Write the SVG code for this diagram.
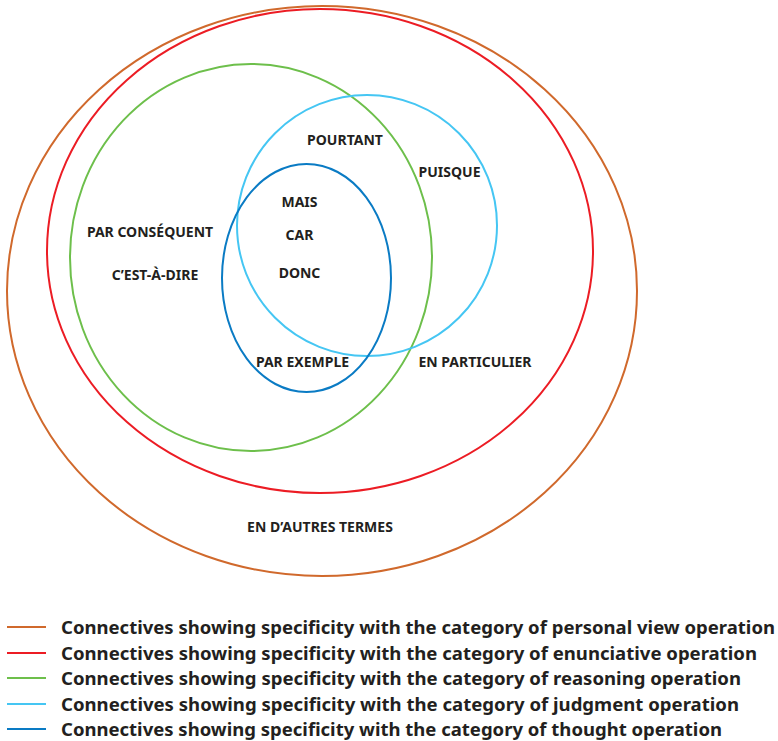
<svg xmlns="http://www.w3.org/2000/svg" width="778" height="741" viewBox="0 0 778 741">
<style>
.e{fill:none;stroke-width:2}
.o{stroke:#d0692c}.r{stroke:#ec1c24}.g{stroke:#6dbf4b}.lb{stroke:#45c6f3}.db{stroke:#0a7bc4}
.t{font-family:"Noto Sans","Open Sans","Liberation Sans",sans-serif;font-weight:bold;font-size:14px;fill:#231f20;text-anchor:middle}
.lg{font-family:"Noto Sans","Open Sans","Liberation Sans",sans-serif;font-weight:bold;font-size:18px;fill:#231f20}
</style>
<rect width="778" height="741" fill="#fff"/>
<g id="connectors">
<g id="personal-view"><ellipse class="e o" cx="322" cy="291" rx="315" ry="285"/></g>
<g id="enunciative"><ellipse class="e r" cx="320" cy="251" rx="273" ry="242"/></g>
<g id="reasoning"><ellipse class="e g" cx="251" cy="257.5" rx="181" ry="193.5"/></g>
<g id="judgment"><ellipse class="e lb" cx="367" cy="225.5" rx="130" ry="130.5"/></g>
<g id="thought"><ellipse class="e db" cx="306.5" cy="278" rx="84.5" ry="114"/></g>
</g>
<g id="labels">
<text class="t" x="345" y="145">POURTANT</text>
<text class="t" x="449.5" y="177">PUISQUE</text>
<text class="t" x="299.5" y="207">MAIS</text>
<text class="t" x="299.5" y="240">CAR</text>
<text class="t" x="299.5" y="278">DONC</text>
<text class="t" x="150" y="237">PAR CONSÉQUENT</text>
<text class="t" x="155" y="280">C’EST-À-DIRE</text>
<text class="t" x="302.5" y="367">PAR EXEMPLE</text>
<text class="t" x="475" y="367">EN PARTICULIER</text>
<text class="t" x="320" y="532">EN D’AUTRES TERMES</text>
</g>
<g id="legend">
<line class="e o" x1="7" y1="627" x2="46" y2="627"/>
<line class="e r" x1="7" y1="653" x2="46" y2="653"/>
<line class="e g" x1="7" y1="678" x2="46" y2="678"/>
<line class="e lb" x1="7" y1="704" x2="46" y2="704"/>
<line class="e db" x1="7" y1="729" x2="46" y2="729"/>
<text class="lg" x="61" y="634" textLength="714" lengthAdjust="spacingAndGlyphs">Connectives showing specificity with the category of personal view operation</text>
<text class="lg" x="61" y="660" textLength="696" lengthAdjust="spacingAndGlyphs">Connectives showing specificity with the category of enunciative operation</text>
<text class="lg" x="61" y="685" textLength="680" lengthAdjust="spacingAndGlyphs">Connectives showing specificity with the category of reasoning operation</text>
<text class="lg" x="61" y="711" textLength="678" lengthAdjust="spacingAndGlyphs">Connectives showing specificity with the category of judgment operation</text>
<text class="lg" x="61" y="736" textLength="661" lengthAdjust="spacingAndGlyphs">Connectives showing specificity with the category of thought operation</text>
</g>
</svg>
